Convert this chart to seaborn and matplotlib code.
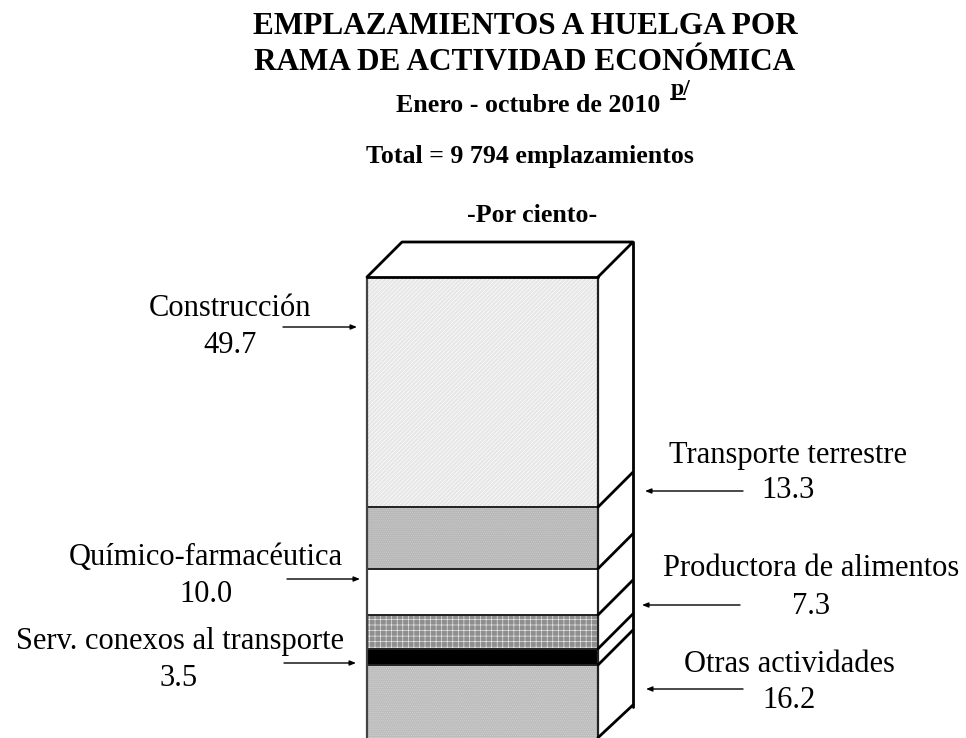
import matplotlib
matplotlib.use("Agg")
import matplotlib.pyplot as plt
from matplotlib.lines import Line2D
import pandas as pd
import seaborn as sns

# bottom to top of the stacked column
sectors = ["Otras actividades", "Serv. conexos al transporte", "Productora de alimentos",
           "Químico-farmacéutica", "Transporte terrestre", "Construcción"]
shares = [16.2, 3.5, 7.3, 10.0, 13.3, 49.7]
fills = ["#bcbcbc", "#000000", "#8e8e8e", "#ffffff", "#b8b8b8", "#e6e6e6"]
hatches = ["........", "", "+++", "", "........", "////////"]
hatch_cols = ["#d4d4d4", "#000000", "#e6e6e6", "#000000", "#cccccc", "#ffffff"]

W, H = 966, 738

sns.set_theme(style="white")
plt.rcParams["font.family"] = ["Liberation Serif", "DejaVu Serif"]
plt.rcParams["hatch.linewidth"] = 0.5

fig = plt.figure(figsize=(W / 100, H / 100), dpi=100)
# front face goes from x 367 to 598, y 277 to 740 (runs off the bottom edge)
ax = fig.add_axes([367 / W, 1 - 740 / H, 231 / W, 463 / H])

df = pd.DataFrame({"col": ["Total"] * len(sectors), "sector": sectors, "share": shares})
df["base"] = df["share"].cumsum() - df["share"]

for i, row in df.iterrows():
    sns.barplot(x=[row["col"]], y=[row["share"]], bottom=row["base"], width=1,
                color=fills[i], saturation=1, ax=ax, clip_on=False, zorder=2)
    bar = ax.patches[-1]
    bar.set_facecolor(fills[i])
    bar.set_hatch(hatches[i])
    bar.set_edgecolor(hatch_cols[i])
    bar.set_linewidth(0)

ax.set_xlim(-0.5, 0.5)
ax.set_ylim(0, 100)
ax.axis("off")

# depth of the box, in data units
dx = 35 / 231
dy = 35 / 4.63
lw = 2.0
kw = dict(color="black", lw=lw, clip_on=False, zorder=4, solid_capstyle="round")

tops = (df["base"] + df["share"]).tolist()
for t in tops[:-1]:
    ax.plot([-0.5, 0.5], [t, t], color="#222222", lw=1.4, clip_on=False, zorder=3)
    ax.plot([0.5, 0.5 + dx], [t, t + dy], **kw)
ax.plot([-0.5, -0.5], [0, 100], color="#444444", lw=1.6, clip_on=False, zorder=3)
ax.plot([0.5, 0.5], [0, 100], color="#222222", lw=1.6, clip_on=False, zorder=3)

# top face and right side
ax.plot([-0.5, 0.5], [100, 100], **kw)
ax.plot([-0.5, -0.5 + dx, 0.5 + dx, 0.5], [100, 100 + dy, 100 + dy, 100], **kw)
ax.plot([0.5 + dx, 0.5 + dx], [100 + dy, dy - 0.5], **kw)
ax.plot([0.5, 0.5 + dx], [0.5, dy], **kw)


def label(x, y, s, size=22, weight="normal"):
    fig.text(x / W, 1 - y / H, s, ha="center", va="center", fontsize=size,
             fontweight=weight, color="black")


def arrow(x0, x1, y):
    ax.annotate("", xy=(x1, H - y), xytext=(x0, H - y), xycoords="figure pixels",
                textcoords="figure pixels", annotation_clip=False,
                arrowprops=dict(arrowstyle="-|>,head_length=0.3,head_width=0.12",
                                color="black", lw=1, shrinkA=0, shrinkB=0))


label(525, 26, "EMPLAZAMIENTOS A HUELGA POR", 22.5, "bold")
label(525, 62, "RAMA DE ACTIVIDAD ECONÓMICA", 22.5, "bold")
label(528.5, 105, "Enero - octubre de 2010", 18.6, "bold")
label(681, 90, "p/", 17, "bold")
fig.add_artist(Line2D([671 / W, 685 / W], [1 - 99 / H, 1 - 99 / H], color="black", lw=1.5))
label(530, 156, "Total = 9 794 emplazamientos", 18.6, "bold")
label(532, 215, "-Por ciento-", 18.6, "bold")

label(230, 308, "Construcción")
label(230, 345, "49.7")
label(788, 455, "Transporte terrestre")
label(788, 490, "13.3")
label(206, 558, "Químico-farmacéutica")
label(206, 595, "10.0")
label(811, 569, "Productora de alimentos")
label(811, 606, "7.3")
label(180, 642, "Serv. conexos al transporte")
label(179, 678, "3.5")
label(789, 665, "Otras actividades")
label(789, 700, "16.2")

arrow(283, 357, 327)
arrow(743, 645, 491)
arrow(287, 360, 579)
arrow(740, 642, 605)
arrow(284, 356, 663)
arrow(743, 646, 689)

fig.savefig("out.png", dpi=100, facecolor="white")
